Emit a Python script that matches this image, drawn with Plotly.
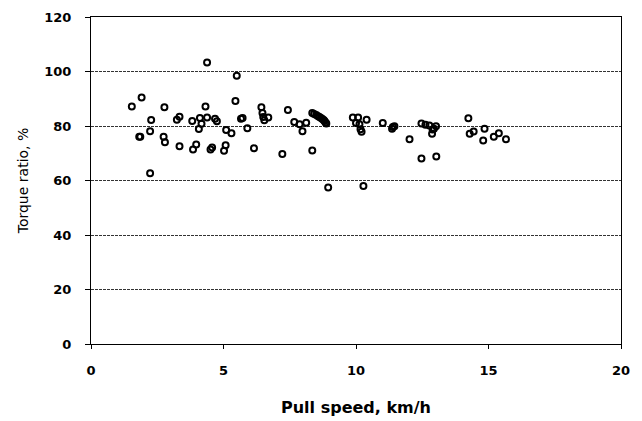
import plotly.graph_objects as go

speed = [4.38, 5.50, 1.91, 1.54, 2.77, 4.32, 5.45, 6.43, 6.47, 6.50, 6.54, 6.69,
         2.27, 3.24, 3.34, 3.82, 4.11, 4.17, 4.07, 4.38, 4.68, 4.75, 5.10, 5.30,
         5.66, 5.72, 5.90, 2.23, 1.82, 1.86, 2.74, 2.79, 3.34, 3.85, 3.97, 4.51,
         4.57, 5.02, 5.08, 6.15, 2.23,
         7.43, 7.67, 7.87, 7.98, 8.12, 7.22, 8.35, 8.50, 8.62, 8.73, 8.81, 8.88,
         8.42, 8.57, 8.68, 8.78, 8.85,
         8.35, 8.95, 9.88, 10.08, 10.00, 10.13, 10.17, 10.21, 10.40, 10.28,
         11.01, 11.39, 11.45, 11.36, 12.02,
         12.47, 12.62, 12.77, 12.89, 12.87, 13.02, 12.94, 12.47, 13.03,
         14.24, 14.29, 14.44, 14.85, 14.80, 15.20, 15.39, 15.66]
torque = [103.3, 98.4, 90.5, 87.2, 86.9, 87.2, 89.2, 86.9, 84.8, 83.3, 82.1, 83.1,
          82.2, 82.3, 83.4, 81.8, 82.9, 80.8, 78.9, 83.1, 82.7, 81.7, 78.5, 77.3,
          82.7, 82.9, 79.2, 78.1, 76.1, 76.1, 76.1, 74.0, 72.6, 71.4, 73.2, 71.4,
          72.1, 70.9, 72.9, 71.8, 62.7,
          85.9, 81.5, 80.6, 78.1, 81.2, 69.7, 84.8, 84.0, 83.3, 82.6, 81.8, 80.9,
          84.4, 83.6, 82.9, 82.2, 81.3,
          71.0, 57.4, 83.1, 83.1, 81.1, 80.6, 78.8, 77.9, 82.3, 58.0,
          81.1, 79.6, 79.9, 79.0, 75.1,
          80.9, 80.5, 80.2, 78.7, 77.2, 79.9, 79.0, 68.1, 68.8,
          82.8, 77.2, 78.0, 79.0, 74.7, 76.1, 77.3, 75.1]

x_ticks = [0, 5, 10, 15, 20]
y_ticks = [0, 20, 40, 60, 80, 100, 120]

fig = go.Figure()
fig.add_trace(go.Scatter(
    x=speed, y=torque, mode="markers",
    marker=dict(symbol="circle-open", size=6, color="black",
                line=dict(width=2, color="black")),
    showlegend=False,
))

tickfont = dict(family="DejaVu Sans", size=13, color="black", weight="bold")

# The page body has an 8px margin, so the figure is sized to fit the window.
fig.update_layout(
    width=634, height=413,
    margin=dict(l=83, r=21, t=9, b=77),
    paper_bgcolor="white", plot_bgcolor="white",
    xaxis=dict(
        range=[0, 20], tickvals=x_ticks, showgrid=False, zeroline=False,
        showline=True, linecolor="black", linewidth=1, mirror=True,
        ticks="outside", ticklen=4, tickcolor="black", tickfont=tickfont,
        ticklabelstandoff=10, automargin=False,
        title=dict(text="Pull speed, km/h", standoff=25,
                   font=dict(family="DejaVu Sans", size=16, color="black",
                             weight="bold")),
    ),
    yaxis=dict(
        range=[0, 120], tickvals=y_ticks, showgrid=True, gridcolor="#333333",
        griddash="3px,1px", gridwidth=1, zeroline=False,
        showline=True, linecolor="black", linewidth=1, mirror=True,
        ticks="outside", ticklen=5, tickcolor="black", tickfont=tickfont,
        ticklabelstandoff=11, automargin=False,
        title=dict(text="Torque ratio, %", standoff=12,
                   font=dict(family="DejaVu Sans", size=14, color="black")),
    ),
)

fig.write_html("out.html")
